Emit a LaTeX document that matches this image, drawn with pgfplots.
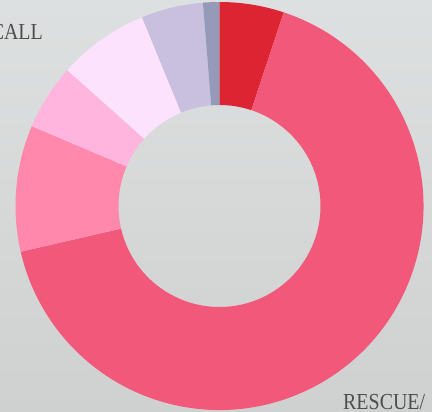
\documentclass[border=0pt]{standalone}
\usepackage{pgfplots}
\pgfplotsset{compat=1.18}
\usepackage{fontspec}
\newfontfamily\labfont[FakeStretch=0.87]{Liberation Serif}
\definecolor{cRed}{HTML}{DC2433}
\definecolor{cBig}{HTML}{F2587A}
\definecolor{cPink}{HTML}{FF88AC}
\definecolor{cLight}{HTML}{FFB5DE}
\definecolor{cVLight}{HTML}{FDE2FD}
\definecolor{cLav}{HTML}{C9BFDE}
\definecolor{cGrey}{HTML}{959AB8}
\definecolor{bgTop}{HTML}{DDE0E0}
\definecolor{bgBot}{HTML}{CFD1D0}
\definecolor{txt}{HTML}{4E4E4E}
% slice: #1 start (percent), #2 end (percent), #3 colour
\newcommand\slice[3]{%
  \fill[#3] ([shift={({90-3.6*#1}:204bp)}]O)
    arc[start angle={90-3.6*#1}, end angle={90-3.6*#2}, radius=204bp]
    -- ([shift={({90-3.6*#2}:101bp)}]O)
    arc[start angle={90-3.6*#2}, end angle={90-3.6*#1}, radius=101bp]
    -- cycle;}
\begin{document}
\begin{tikzpicture}
\useasboundingbox (0,0) rectangle (432bp,412bp);
\clip (0,0) rectangle (432bp,412bp);
\fill[top color=bgTop, bottom color=bgBot] (0,0) rectangle (432bp,412bp);
\begin{axis}[at={(0,0)}, anchor=south west, x=1bp, y=1bp,
  xmin=0, xmax=432, ymin=0, ymax=412, hide axis, clip=false]
\coordinate (O) at (axis cs:219.5,206);
% values (percent): 5.1, 66.3, 10.0, 5.2, 7.2, 4.9, 1.3
\slice{0}{5.1}{cRed}
\slice{5.1}{71.4}{cBig}
\slice{71.4}{81.4}{cPink}
\slice{81.4}{86.6}{cLight}
\slice{86.6}{93.8}{cVLight}
\slice{93.8}{98.7}{cLav}
\slice{98.7}{100}{cGrey}
\node[anchor=base east, inner sep=0pt, text=txt, font=\labfont\fontsize{23}{27}\selectfont] at (axis cs:43,373) {CALL};
\node[anchor=base west, inner sep=0pt, text=txt, font=\labfont\fontsize{23}{27}\selectfont] at (axis cs:343,3) {RESCUE/};
\end{axis}
\end{tikzpicture}
\end{document}
